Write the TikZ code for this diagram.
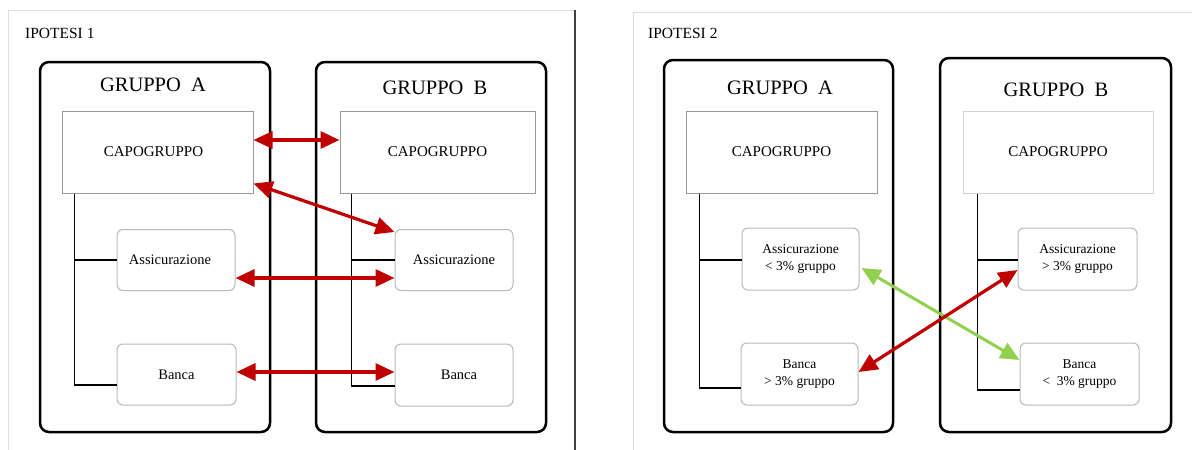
\documentclass[tikz,border=0pt]{standalone}
\usepackage{fontspec}
\setmainfont{Liberation Serif}
\usetikzlibrary{arrows.meta}
\definecolor{arrred}{HTML}{C00000}
\definecolor{arrgreen}{HTML}{92D050}
\definecolor{panelgray}{HTML}{DDDDDD}
\tikzset{
  groupbox/.style={draw=black, line width=2.5pt, rounded corners=9pt, minimum width=#1, inner sep=0pt},
  capobox/.style={draw=gray!80, line width=1pt, minimum width=#1, minimum height=82pt, inner sep=0pt, font=\fontsize{15}{16}\selectfont},
  childbox/.style={draw=gray!55, line width=1pt, rounded corners=6pt, minimum width=#1, minimum height=61pt, inner sep=0pt, align=center},
  grtitle/.style={font=\fontsize{20.5}{22}\selectfont, inner sep=0pt},
  hyptitle/.style={font=\fontsize{15.5}{17}\selectfont, anchor=west, inner sep=0pt},
  tree/.style={draw=black, line width=1.3pt},
  tipp/.tip={Triangle[length=19pt,width=17pt]},
  redarr/.style={draw=arrred, line width=3.2pt, tipp-tipp},
  greenarr/.style={draw=arrgreen, line width=3pt, tipp-tipp},
  panelline/.style={draw=panelgray, line width=1pt}
}
\begin{document}
\begin{tikzpicture}[x=1pt,y=-1pt]
\useasboundingbox[fill=white] (0,0) rectangle (1192,450);
% panel frames
\coordinate (p1tl) at (8,10);
\coordinate (p1tr) at (575,10);
\coordinate (p1bl) at (8,450);
\coordinate (p1br) at (575,450);
\draw[panelline] (p1bl) -- (p1tl) -- (p1tr);
\draw[draw=black!75, line width=1.3pt] (p1tr) -- (p1br);
\coordinate (p2tl) at (633,12);
\coordinate (p2tr) at (1192,12);
\coordinate (p2bl) at (633,450);
\draw[panelline] (p2bl) -- (p2tl) -- (p2tr);

% ================= IPOTESI 1 =================
\node[hyptitle] (h1) at (25,33) {IPOTESI 1};
\node[groupbox=230pt, minimum height=370pt] (gA1) at (155,247) {};
\node[groupbox=230pt, minimum height=370pt] (gB1) at (431,247) {};
\node[grtitle] (tA1) at (153,85) {GRUPPO\ \ A};
\node[grtitle] (tB1) at (435,88) {GRUPPO\ \ B};
\node[capobox=191pt] (capA1) at (157.5,152) {\hspace*{-8pt}CAPOGRUPPO};
\node[capobox=195pt] (capB1) at (437.5,152) {CAPOGRUPPO};
\node[childbox=118pt, font=\fontsize{14.5}{16}\selectfont] (asA1) at (176,260) {\hspace*{-12pt}Assicurazione};
\node[childbox=119pt, font=\fontsize{14.5}{16}\selectfont] (baA1) at (176.5,374.5) {Banca};
\node[childbox=118pt, font=\fontsize{14.5}{16}\selectfont] (asB1) at (454,260) {Assicurazione};
\node[childbox=118pt, minimum height=62pt, font=\fontsize{14.5}{16}\selectfont] (baB1) at (454,375) {\hspace*{10pt}Banca};
% trees
\draw[tree] ([xshift=13pt]capA1.south west) |- ([yshift=-10.5pt]baA1.west);
\draw[tree] ([xshift=13pt]capA1.south west |- asA1.west) -- (asA1.west);
\draw[tree] ([xshift=12pt]capB1.south west) |- ([yshift=-11pt]baB1.west);
\draw[tree] ([xshift=12pt]capB1.south west |- asB1.west) -- (asB1.west);
% arrows
\draw[redarr] ([yshift=12pt]capA1.east) -- ([yshift=12pt]capB1.west);
\draw[redarr] ([yshift=10pt]capA1.south east) -- ([yshift=-3pt]asB1.north west);
\draw[redarr] ([yshift=-18pt]asA1.east) -- ([yshift=-18pt]asB1.west);
\draw[redarr] ([yshift=2.5pt]baA1.east) -- ([yshift=3pt]baB1.west);

% ================= IPOTESI 2 =================
\node[hyptitle] (h2) at (648,33) {IPOTESI 2};
\node[groupbox=229pt, minimum height=372pt] (gA2) at (778.5,246) {};
\node[groupbox=231pt, minimum height=374pt] (gB2) at (1055.5,245) {};
\node[grtitle] (tA2) at (780,88) {GRUPPO\ \ A};
\node[grtitle] (tB2) at (1056,90) {GRUPPO\ \ B};
\node[capobox=191pt] (capA2) at (781.5,152) {CAPOGRUPPO};
\node[capobox=190pt, draw=gray!35] (capB2) at (1058,152) {CAPOGRUPPO};
\node[childbox=117pt, minimum height=62pt, font=\fontsize{13.5}{16.5}\selectfont] (asA2) at (800.5,259) {Assicurazione\\< 3\% gruppo};
\node[childbox=117pt, minimum height=62pt, font=\fontsize{13.5}{16.5}\selectfont] (baA2) at (799.5,374) {Banca\\> 3\% gruppo};
\node[childbox=119pt, minimum height=62pt, font=\fontsize{13.5}{16.5}\selectfont] (asB2) at (1077.5,259) {Assicurazione\\> 3\% gruppo};
\node[childbox=119pt, minimum height=62pt, font=\fontsize{13.5}{16.5}\selectfont] (baB2) at (1079.5,374) {Banca\\<\ \ 3\% gruppo};
% trees
\draw[tree] ([xshift=14pt]capA2.south west) |- ([yshift=-14pt]baA2.west);
\draw[tree] ([xshift=14pt]capA2.south west |- 0,260) -- (asA2.west |- 0,260);
\draw[tree] ([xshift=15pt]capB2.south west) |- ([yshift=-16pt]baB2.west);
\draw[tree] ([xshift=15pt]capB2.south west |- 0,260) -- (asB2.west |- 0,260);
% arrows
\draw[greenarr] ([yshift=-9pt,xshift=2pt]asA2.east) -- ([yshift=14pt]baB2.west);
\draw[redarr] ([yshift=2pt]baA2.east) -- ([yshift=-11pt]asB2.west);
\end{tikzpicture}
\end{document}
